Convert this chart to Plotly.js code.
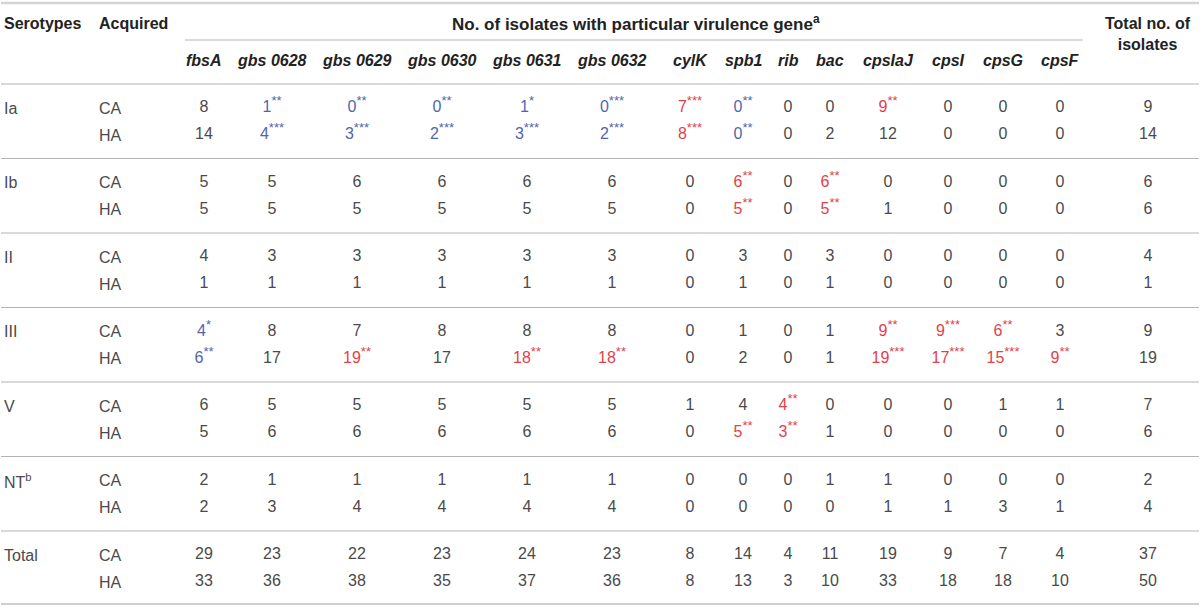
<!DOCTYPE html>
<html><head><meta charset="utf-8">
<script src="https://cdn.plot.ly/plotly-3.0.1.min.js"></script>
<style>html,body{margin:0;padding:0;background:#fff}#chart{width:1200px;height:607px}</style>
</head><body><div id="chart"></div>
<script>
// ---------- DATA ----------
const serotypes = ['Ia', 'Ib', 'II', 'III', 'V', 'NT<sup>b</sup>', 'Total'];
const acquired = ['CA', 'HA'];
const genes = ['fbsA', 'gbs 0628', 'gbs 0629', 'gbs 0630', 'gbs 0631', 'gbs 0632', 'cylK', 'spb1', 'rib', 'bac', 'cpsIaJ', 'cpsI', 'cpsG', 'cpsF'];
const headerSerotype = 'Serotypes';
const headerAcquired = 'Acquired';
const headerGenes = 'No. of isolates with particular virulence gene<sup>a</sup>';
const headerTotal = 'Total no. of<br>isolates';

// counts per row (genes in order above)
const iaCA    = [8, 1, 0, 0, 1, 0, 7, 0, 0, 0, 9, 0, 0, 0];
const iaHA    = [14, 4, 3, 2, 3, 2, 8, 0, 0, 2, 12, 0, 0, 0];
const ibCA    = [5, 5, 6, 6, 6, 6, 0, 6, 0, 6, 0, 0, 0, 0];
const ibHA    = [5, 5, 5, 5, 5, 5, 0, 5, 0, 5, 1, 0, 0, 0];
const iiCA    = [4, 3, 3, 3, 3, 3, 0, 3, 0, 3, 0, 0, 0, 0];
const iiHA    = [1, 1, 1, 1, 1, 1, 0, 1, 0, 1, 0, 0, 0, 0];
const iiiCA   = [4, 8, 7, 8, 8, 8, 0, 1, 0, 1, 9, 9, 6, 3];
const iiiHA   = [6, 17, 19, 17, 18, 18, 0, 2, 0, 1, 19, 17, 15, 9];
const vCA     = [6, 5, 5, 5, 5, 5, 1, 4, 4, 0, 0, 0, 1, 1];
const vHA     = [5, 6, 6, 6, 6, 6, 0, 5, 3, 1, 0, 0, 0, 0];
const ntCA    = [2, 1, 1, 1, 1, 1, 0, 0, 0, 1, 1, 0, 0, 0];
const ntHA    = [2, 3, 4, 4, 4, 4, 0, 0, 0, 0, 1, 1, 3, 1];
const totalCA = [29, 23, 22, 23, 24, 23, 8, 14, 4, 11, 19, 9, 7, 4];
const totalHA = [33, 36, 38, 35, 37, 36, 8, 13, 3, 10, 33, 18, 18, 10];

// significance marks: '-' = lower (blue), '+' = higher (red), followed by stars
const iaCAsig  = ['', '-**', '-**', '-**', '-*', '-***', '+***', '-**', '', '', '+**', '', '', ''];
const iaHAsig  = ['', '-***', '-***', '-***', '-***', '-***', '+***', '-**', '', '', '', '', '', ''];
const ibCAsig  = ['', '', '', '', '', '', '', '+**', '', '+**', '', '', '', ''];
const ibHAsig  = ['', '', '', '', '', '', '', '+**', '', '+**', '', '', '', ''];
const iiiCAsig = ['-*', '', '', '', '', '', '', '', '', '', '+**', '+***', '+**', ''];
const iiiHAsig = ['-**', '', '+**', '', '+**', '+**', '', '', '', '', '+***', '+***', '+***', '+**'];
const vCAsig   = ['', '', '', '', '', '', '', '', '+**', '', '', '', '', ''];
const vHAsig   = ['', '', '', '', '', '', '', '+**', '+**', '', '', '', '', ''];

const totalIsolates = [9, 14, 6, 6, 4, 1, 9, 19, 7, 6, 2, 4, 37, 50];

const rows = [iaCA, iaHA, ibCA, ibHA, iiCA, iiHA, iiiCA, iiiHA, vCA, vHA, ntCA, ntHA, totalCA, totalHA];
const none = genes.map(() => '');
const sigs = [iaCAsig, iaHAsig, ibCAsig, ibHAsig, none, none, iiiCAsig, iiiHAsig, vCAsig, vHAsig, none, none, none, none];

// ---------- LAYOUT / STYLE ----------
const colX = [204, 272, 357, 442, 527, 612, 690, 743, 788, 830, 888, 948, 1003, 1060];
const totalX = 1148;
const serX = 3, acqX = 98;
const firstRowY = 108, groupStep = 74.5, pairStep = 27;
const FONT = '"Helvetica Neue", "Liberation Sans", Arial, sans-serif';
const TXT = '#4a4a4a', RED = '#e3414a', BLUE = '#5166ac';
const BODY = 16, HEAD = 16, TITLE = 17, STAR = 13;

const rowY = i => firstRowY + Math.floor(i / 2) * groupStep + (i % 2) * pairStep;

const xs = [], ys = [], texts = [], colors = [];
rows.forEach((vals, r) => {
  vals.forEach((v, c) => {
    const s = sigs[r][c];
    xs.push(colX[c]); ys.push(rowY(r));
    if (s) {
      texts.push(v + '<sup><span style="font-size:' + STAR + 'px">' + s.slice(1) + '</span></sup>');
      colors.push(s[0] === '+' ? RED : BLUE);
    } else {
      texts.push(String(v)); colors.push(TXT);
    }
  });
  xs.push(totalX); ys.push(rowY(r)); texts.push(String(totalIsolates[r])); colors.push(TXT);
});

const traces = [{
  type: 'scatter', mode: 'text', x: xs, y: ys, text: texts,
  textposition: 'middle center', hoverinfo: 'skip',
  textfont: {family: FONT, size: BODY, color: colors}
}];

const ann = [];
const hfont = {family: FONT, size: HEAD, color: '#222'};
ann.push({x: serX, y: 23, text: '<b>' + headerSerotype + '</b>', xanchor: 'left', font: hfont});
ann.push({x: acqX, y: 23, text: '<b>' + headerAcquired + '</b>', xanchor: 'left', font: hfont});
ann.push({x: 636, y: 23, text: '<b>' + headerGenes + '</b>', xanchor: 'center', font: {family: FONT, size: TITLE, color: '#222'}});
ann.push({x: totalX, y: 34, text: '<b>' + headerTotal + '</b>', xanchor: 'center', font: hfont});
genes.forEach((g, c) => ann.push({x: colX[c], y: 60, text: '<b><i>' + g + '</i></b>', xanchor: 'center', font: hfont}));
serotypes.forEach((s, g) => ann.push({x: serX, y: rowY(g * 2), text: s, xanchor: 'left', font: {family: FONT, size: BODY, color: TXT}}));
rows.forEach((_, r) => ann.push({x: acqX, y: rowY(r), text: acquired[r % 2], xanchor: 'left', font: {family: FONT, size: BODY, color: TXT}}));
ann.forEach(a => { a.xref = 'x'; a.yref = 'y'; a.yanchor = 'middle'; a.showarrow = false; a.borderpad = 0; });

const shapes = [];
const hline = (y, x0, x1, w, col) => shapes.push({type: 'line', xref: 'x', yref: 'y', x0: x0, x1: x1, y0: y, y1: y, line: {color: col, width: w}});
hline(3, 1, 1199, 2.5, '#d4d4d4');
hline(40, 185, 1083, 1, '#b4b4b4');
hline(84, 1, 1199, 1.2, '#b4b4b4');
for (let g = 1; g < serotypes.length; g++) {
  hline(rowY(g * 2) - 24, 1, 1199, 1.2, '#b4b4b4');
}
hline(rowY(rows.length - 1) + 22, 1, 1199, 2, '#cfcfcf');

const layout = {
  width: 1200, height: 607, margin: {l: 0, r: 0, t: 0, b: 0},
  paper_bgcolor: '#fff', plot_bgcolor: '#fff', showlegend: false,
  xaxis: {range: [0, 1200], visible: false, fixedrange: true},
  yaxis: {range: [607, 0], visible: false, fixedrange: true},
  annotations: ann, shapes: shapes
};
Plotly.newPlot('chart', traces, layout, {staticPlot: true, displayModeBar: false});
</script></body></html>
